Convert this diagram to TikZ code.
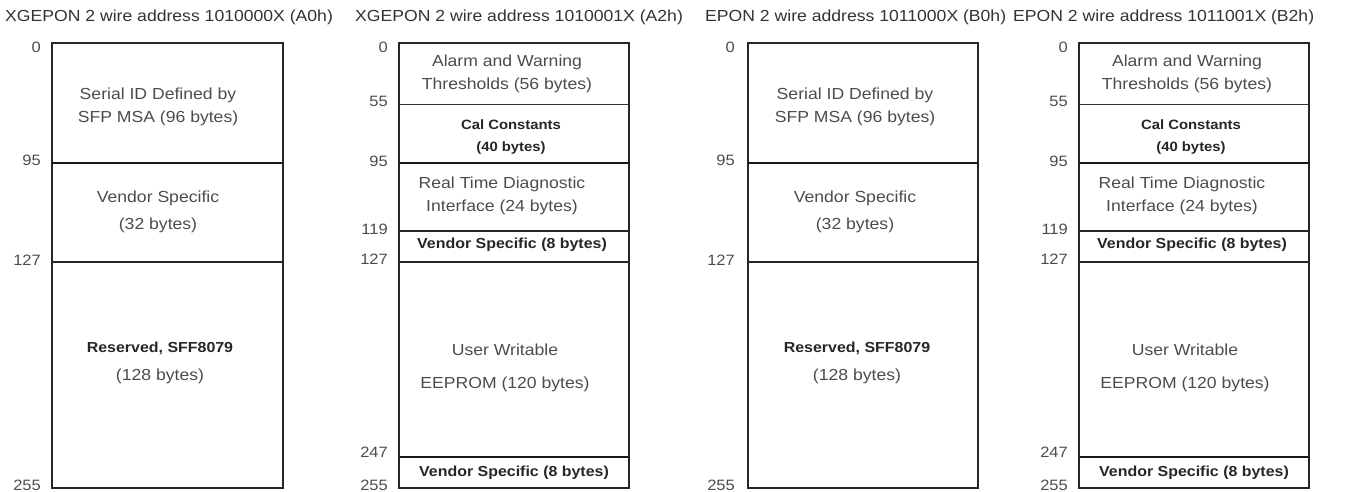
\documentclass[tikz,border=0pt]{standalone}
\usepackage{fontspec}
\setmainfont[FakeStretch=1.1]{Liberation Sans}
\usepackage{tikz}

\begin{document}
\begin{tikzpicture}[x=1pt, y=-1pt,
    title/.style = {anchor=west, inner sep=0pt, text=black!80, font=\fontsize{16}{18}\selectfont},
    addr/.style = {anchor=east, inner sep=0pt, text=black!70, font=\fontsize{15}{18}\selectfont},
    field/.style = {align=center, inner sep=0pt, text=black!70, font=\fontsize{16}{23}\selectfont},
    boldfield/.style = {field, text=black!85, font=\fontsize{14.5}{22}\selectfont\bfseries},
    frame/.style = {draw=black!85, line width=1.8pt},
    split/.style = {draw=black!85, line width=1.3pt},
    thinsplit/.style = {draw=black!80, line width=0.9pt},
    thicksplit/.style = {draw=black!90, line width=2.6pt}]
\useasboundingbox (0,0) rectangle (1355,491);

% XGEPON A0h
\node[title] (t1) at (5,17) {XGEPON 2 wire address 1010000X (A0h)};
\draw[frame] (52,43) rectangle (283,488);
\draw[thicksplit] (52,163) -- (283,163);
\draw[split] (52,262) -- (283,262);
\node[addr] (a1-0)   at (41,47)  {0};
\node[addr] (a1-95)  at (41,160) {95};
\node[addr] (a1-127) at (41,260) {127};
\node[addr] (a1-255) at (41,485) {255};
\node[field] (f1-id)  at (158,107) {Serial ID Defined by\\SFP MSA (96 bytes)};
\node[field] (f1-vs)  at (158,212) {Vendor Specific\\[4pt](32 bytes)};
\node[field] (f1-res) at (160,363) {{\fontsize{14.5}{16}\selectfont\bfseries\color{black!85}Reserved, SFF8079}\\[5pt](128 bytes)};

% XGEPON A2h
\node[title] (t2) at (355,17) {XGEPON 2 wire address 1010001X (A2h)};
\draw[frame] (399,43) rectangle (629,488);
\draw[thinsplit] (399,104) -- (629,104);
\draw[thicksplit] (399,163) -- (629,163);
\draw[split] (399,231) -- (629,231);
\draw[split] (399,262) -- (629,262);
\draw[thicksplit] (399,457) -- (629,457);
\node[addr] (a2-0)   at (388,47)  {0};
\node[addr] (a2-55)  at (388,101) {55};
\node[addr] (a2-95)  at (388,161) {95};
\node[addr] (a2-119) at (388,229) {119};
\node[addr] (a2-127) at (388,259) {127};
\node[addr] (a2-247) at (388,452) {247};
\node[addr] (a2-255) at (388,485) {255};
\node[field] (f2-al)  at (507,74)  {Alarm and Warning\\Thresholds (56 bytes)};
\node[boldfield, font=\fontsize{13.5}{22}\selectfont\bfseries] (f2-cal) at (511,137) {Cal Constants\\(40 bytes)};
\node[field] (f2-rt)  at (502,196) {Real Time Diagnostic\\Interface (24 bytes)};
\node[boldfield] (f2-vs)  at (512,245) {Vendor Specific (8 bytes)};
\node[field] (f2-usr) at (505,368) {User Writable\\[10pt]EEPROM (120 bytes)};
\node[boldfield] (f2-vs2) at (514,473) {Vendor Specific (8 bytes)};

% EPON B0h
\node[title] (t3) at (705,17) {EPON 2 wire address 1011000X (B0h)};
\draw[frame] (748,43) rectangle (978,488);
\draw[thicksplit] (748,163) -- (978,163);
\draw[split] (748,262) -- (978,262);
\node[addr] (a3-0)   at (735,47)  {0};
\node[addr] (a3-95)  at (735,160) {95};
\node[addr] (a3-127) at (735,260) {127};
\node[addr] (a3-255) at (735,485) {255};
\node[field] (f3-id)  at (855,107) {Serial ID Defined by\\SFP MSA (96 bytes)};
\node[field] (f3-vs)  at (855,212) {Vendor Specific\\[4pt](32 bytes)};
\node[field] (f3-res) at (857,363) {{\fontsize{14.5}{16}\selectfont\bfseries\color{black!85}Reserved, SFF8079}\\[5pt](128 bytes)};

% EPON B2h
\node[title] (t4) at (1013,17) {EPON 2 wire address 1011001X (B2h)};
\draw[frame] (1079,43) rectangle (1309,488);
\draw[thinsplit] (1079,104) -- (1309,104);
\draw[thicksplit] (1079,163) -- (1309,163);
\draw[split] (1079,231) -- (1309,231);
\draw[split] (1079,262) -- (1309,262);
\draw[thicksplit] (1079,457) -- (1309,457);
\node[addr] (a4-0)   at (1068,47)  {0};
\node[addr] (a4-55)  at (1068,101) {55};
\node[addr] (a4-95)  at (1068,161) {95};
\node[addr] (a4-119) at (1068,229) {119};
\node[addr] (a4-127) at (1068,259) {127};
\node[addr] (a4-247) at (1068,452) {247};
\node[addr] (a4-255) at (1068,485) {255};
\node[field] (f4-al)  at (1187,74)  {Alarm and Warning\\Thresholds (56 bytes)};
\node[boldfield, font=\fontsize{13.5}{22}\selectfont\bfseries] (f4-cal) at (1191,137) {Cal Constants\\(40 bytes)};
\node[field] (f4-rt)  at (1182,196) {Real Time Diagnostic\\Interface (24 bytes)};
\node[boldfield] (f4-vs)  at (1192,245) {Vendor Specific (8 bytes)};
\node[field] (f4-usr) at (1185,368) {User Writable\\[10pt]EEPROM (120 bytes)};
\node[boldfield] (f4-vs2) at (1194,473) {Vendor Specific (8 bytes)};
\end{tikzpicture}
\end{document}
